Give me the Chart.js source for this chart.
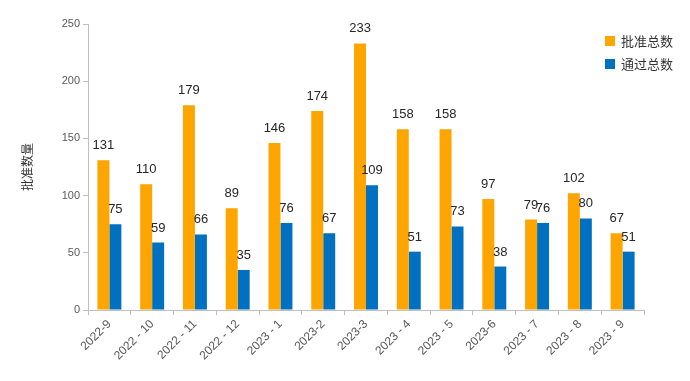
<!DOCTYPE html>
<html><head><meta charset="utf-8">
<script src="https://cdn.jsdelivr.net/npm/chart.js@4.4.0/dist/chart.umd.min.js"></script>
<style>html,body{margin:0;padding:0;background:#fff}#wrap{width:690px;height:381px;position:relative}</style>
</head><body><div id="wrap"><canvas id="c" width="690" height="381"></canvas></div>
<script>
const categories = ["2022-9","2022 - 10","2022 - 11","2022 - 12","2023 - 1","2023-2","2023-3","2023 - 4","2023 - 5","2023-6","2023 - 7","2023 - 8","2023 - 9"];
const approved = [131,110,179,89,146,174,233,158,158,97,79,102,67];
const passed = [75,59,66,35,76,67,109,51,73,38,76,80,51];
const seriesNames = ["批准总数","通过总数"];
const yTicks = [0,50,100,150,200,250];
const colors = ["#FFA500","#0070C0"];
const FONT = "'Liberation Sans', Arial, sans-serif";

const valueLabels = {
  id:'valueLabels',
  afterDatasetsDraw(chart){
    const ctx = chart.ctx;
    ctx.save();
    ctx.font = "13px " + FONT;
    ctx.fillStyle = "#262626";
    ctx.textAlign = "center";
    ctx.textBaseline = "alphabetic";
    chart.data.datasets.forEach((ds,i)=>{
      chart.getDatasetMeta(i).data.forEach((bar,j)=>{
        ctx.fillText(String(ds.data[j]), bar.x, bar.y - 11);
      });
    });
    ctx.restore();
  }
};
const customLegend = {
  id:'customLegend',
  afterDraw(chart){
    const ctx = chart.ctx;
    ctx.save();
    ctx.font = "13px 'Noto Sans CJK SC', sans-serif";
    ctx.textBaseline = "middle";
    chart.data.datasets.forEach((ds,i)=>{
      const y = 41 + i*23;
      ctx.fillStyle = ds.backgroundColor;
      ctx.fillRect(605, y-5, 10, 10);
      ctx.fillStyle = "#333";
      ctx.fillText(ds.label, 621, y);
    });
    ctx.restore();
  }
};

new Chart(document.getElementById('c'), {
  type:'bar',
  data:{
    labels: categories,
    datasets:[
      {label: seriesNames[0], data: approved, backgroundColor: colors[0], categoryPercentage:0.56, barPercentage:1},
      {label: seriesNames[1], data: passed, backgroundColor: colors[1], categoryPercentage:0.56, barPercentage:1}
    ]
  },
  options:{
    responsive:false,
    animation:false,
    layout:{padding:{top:24,right:46,left:0,bottom:0}},
    plugins:{legend:{display:false},tooltip:{enabled:false}},
    scales:{
      x:{
        grid:{drawOnChartArea:false,drawTicks:true,tickLength:5,color:"#bfbfbf",offset:true},
        border:{display:true,color:"#bfbfbf"},
        ticks:{color:"#595959",font:{size:12,family:FONT},minRotation:45,maxRotation:45,autoSkip:false,padding:2},
        afterFit(s){s.height = 71;}
      },
      y:{
        min:0,max:250,
        afterBuildTicks(s){s.ticks = yTicks.map(v=>({value:v}));},
        grid:{drawOnChartArea:false,drawTicks:true,tickLength:5,color:"#bfbfbf"},
        border:{display:true,color:"#bfbfbf"},
        ticks:{color:"#595959",font:{size:11,family:FONT},padding:3},
        title:{display:true,text:"批准数量",color:"#333",font:{size:12,family:"'Noto Sans CJK SC', sans-serif"},padding:{top:20,bottom:0}},
        afterFit(s){s.width = 88;}
      }
    }
  },
  plugins:[valueLabels, customLegend]
});
</script>
</body></html>
